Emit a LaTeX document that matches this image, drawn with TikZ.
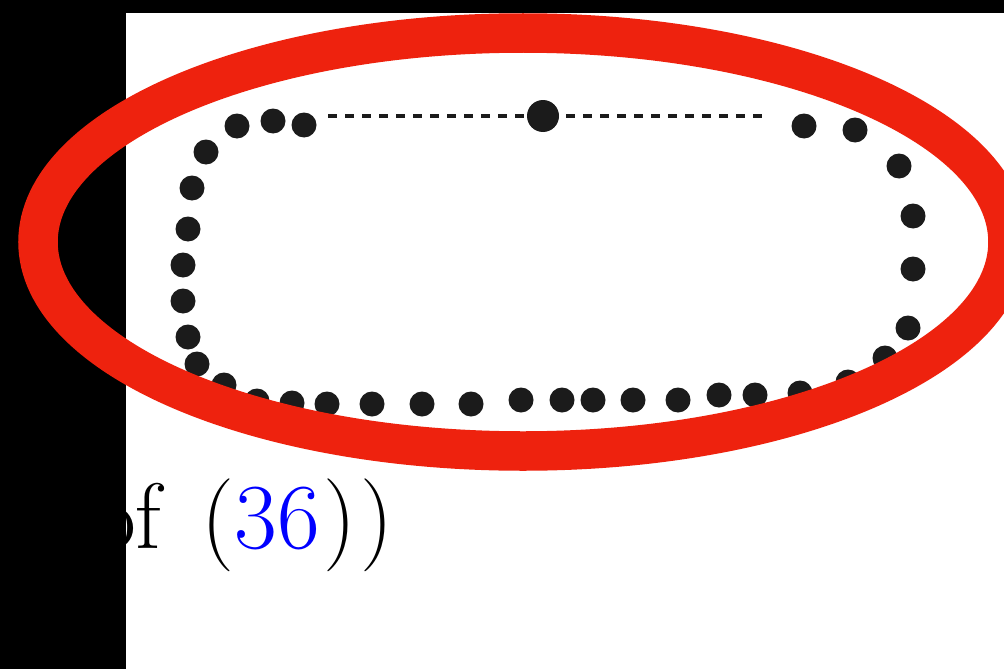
\documentclass[tikz,border=0pt]{standalone}
\usepackage{xcolor}
\definecolor{ringred}{RGB}{238,34,14}
\definecolor{dotgray}{RGB}{27,27,27}
\definecolor{linkblue}{RGB}{0,0,255}
\tikzset{
  dotmark/.style={fill=dotgray},
  ring/.style={draw=ringred, line width=39.5pt},
  dashline/.style={draw=dotgray, line width=3.5pt, dash pattern=on 9pt off 8pt},
  mask/.style={fill=black}
}
\begin{document}
\begin{tikzpicture}[x=1pt,y=-1pt]
\useasboundingbox (0,0) rectangle (1004,669);
\fill[white] (0,0) rectangle (1004,669);
% text
\node[anchor=base west, inner sep=0pt, font=\fontsize{93}{100}\selectfont] (txt) at (93,548) {of\hspace{40pt}(\textcolor{linkblue}{36}\kern4pt)\kern4pt)};
% dotted loop
\foreach \p in {(304,125),(273,121),(237,126),(206,152),(192,188),(188,229),(183,265),(183,301),(188,337),(197,364),(224,385),(257,401),(292,403),(327,404),(372,404),(422,404),(471,404),(521,400),(562,400),(593,400),(633,400),(678,400),(719,395),(755,395),(800,393),(848,382),(885,358),(908,328),(913,269),(913,216),(899,166),(855,130),(804,126)}
  \fill[dotmark] \p circle (12.5);
% dashed line with centre dot
\coordinate (dl) at (328,116);
\coordinate (dr) at (762,116);
\draw[dashline] (dl) -- (dr);
\fill[dotmark] (543,116) circle (16);
% black masks
\fill[mask] (0,0) rectangle (126,669);
\fill[mask] (0,0) rectangle (1004,13);
% red ring
\draw[ring] (523,242) ellipse [x radius=485, y radius=209];
\end{tikzpicture}
\end{document}
